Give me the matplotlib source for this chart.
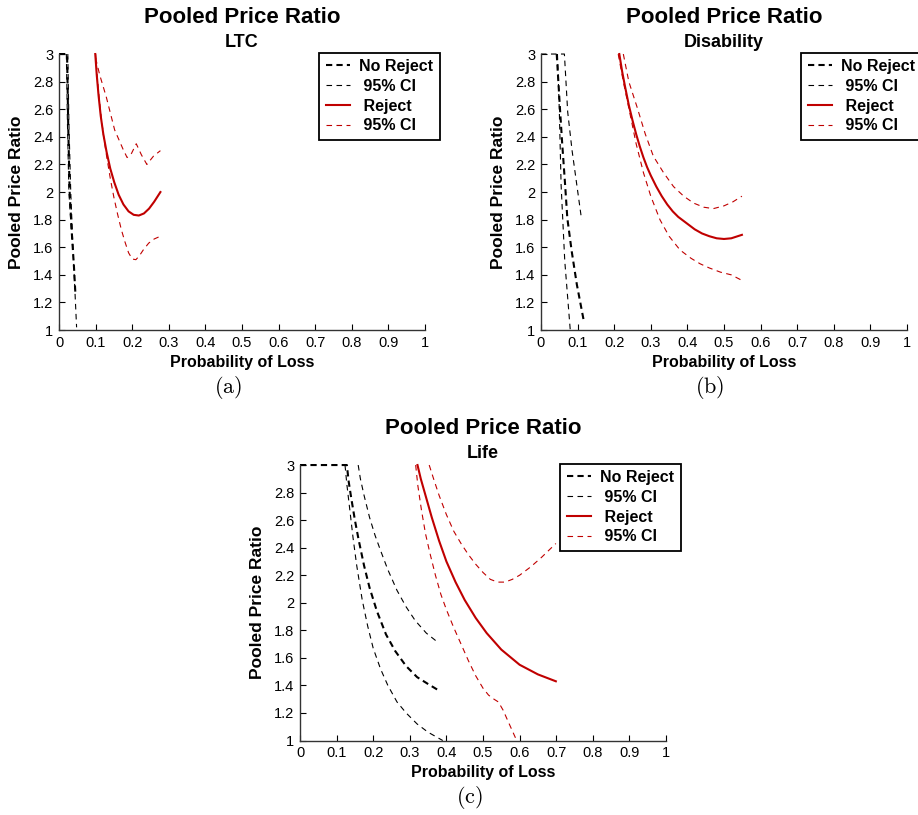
import numpy as np
import matplotlib
matplotlib.use('Agg')
import matplotlib.pyplot as plt

plt.rcParams['font.family'] = ['Liberation Sans', 'DejaVu Sans']
plt.rcParams['mathtext.fontset'] = 'cm'

# LTC panel
ltc_norej_x = [0.0, 0.022, 0.025, 0.029, 0.035, 0.041, 0.045]
ltc_norej_y = [3.0, 3.0, 2.5, 2.0, 1.7, 1.45, 1.25]
ltc_ci1_x = [0.020, 0.023, 0.027, 0.033, 0.038]
ltc_ci1_y = [3.0, 2.5, 2.0, 1.75, 1.57]
ltc_ci2_x = [0.024, 0.027, 0.032, 0.038, 0.044, 0.048]
ltc_ci2_y = [3.0, 2.5, 2.0, 1.6, 1.25, 1.02]
ltc_rej_x = [0.099, 0.103, 0.108, 0.114, 0.121, 0.13, 0.14, 0.151, 0.163, 0.176, 0.19,
             0.204, 0.218, 0.232, 0.246, 0.26, 0.277]
ltc_rej_y = [3.0, 2.85, 2.7, 2.55, 2.42, 2.29, 2.17, 2.07, 1.98, 1.91, 1.86,
             1.835, 1.83, 1.845, 1.88, 1.93, 2.0]
ltc_up_x = [0.1, 0.111, 0.129, 0.152, 0.175, 0.186, 0.198, 0.211, 0.225, 0.24, 0.258, 0.277]
ltc_up_y = [2.97, 2.85, 2.69, 2.45, 2.31, 2.25, 2.28, 2.35, 2.27, 2.2, 2.26, 2.3]
ltc_lo_x = [0.1, 0.104, 0.109, 0.115, 0.122, 0.13, 0.14, 0.15, 0.16, 0.17, 0.18, 0.19,
            0.2, 0.21, 0.22, 0.23, 0.245, 0.26, 0.277]
ltc_lo_y = [3.0, 2.85, 2.7, 2.55, 2.4, 2.26, 2.1, 1.96, 1.84, 1.73, 1.64, 1.56,
            1.515, 1.51, 1.54, 1.58, 1.63, 1.66, 1.68]

# Disability panel
dis_norej_x = [0.043, 0.052, 0.058, 0.066, 0.072, 0.084, 0.098, 0.116]
dis_norej_y = [3.0, 2.6, 2.35, 2.05, 1.81, 1.57, 1.33, 1.08]
dis_ci1_x = [0.045, 0.05, 0.055, 0.065, 0.08]
dis_ci1_y = [3.0, 2.6, 2.05, 1.5, 1.0]
dis_ci2_x = [0.0, 0.064, 0.073, 0.085, 0.098, 0.111]
dis_ci2_y = [3.0, 3.0, 2.58, 2.3, 2.05, 1.8]
dis_rej_x = [0.214, 0.222, 0.23, 0.24, 0.25, 0.26, 0.27, 0.28, 0.29, 0.3, 0.315, 0.33,
             0.345, 0.36, 0.375, 0.39, 0.405, 0.42, 0.44, 0.46, 0.48, 0.5, 0.52, 0.549]
dis_rej_y = [3.0, 2.87, 2.76, 2.63, 2.52, 2.42, 2.33, 2.25, 2.18, 2.12, 2.04, 1.97,
             1.91, 1.86, 1.82, 1.79, 1.76, 1.73, 1.70, 1.68, 1.665, 1.66, 1.665, 1.69]
dis_up_x = [0.225, 0.24, 0.262, 0.285, 0.307, 0.335, 0.362, 0.39, 0.417, 0.445, 0.471, 0.5, 0.525, 0.549]
dis_up_y = [3.0, 2.8, 2.62, 2.42, 2.26, 2.14, 2.04, 1.97, 1.92, 1.89, 1.88, 1.9, 1.93, 1.97]
dis_lo_x = [0.211, 0.225, 0.243, 0.26, 0.28, 0.3, 0.325, 0.35, 0.38, 0.41, 0.435, 0.46, 0.49, 0.52, 0.549]
dis_lo_y = [3.0, 2.8, 2.57, 2.35, 2.14, 1.97, 1.80, 1.68, 1.58, 1.52, 1.48, 1.45, 1.42, 1.4, 1.36]

# Life panel
life_norej_x = [0.0, 0.128, 0.133, 0.14, 0.15, 0.16, 0.175, 0.19, 0.21, 0.235, 0.26,
                0.29, 0.32, 0.35, 0.375]
life_norej_y = [3.0, 3.0, 2.88, 2.76, 2.6, 2.46, 2.27, 2.11, 1.94, 1.77, 1.65,
                1.54, 1.46, 1.41, 1.37]
life_ci1_x = [0.123, 0.128, 0.135, 0.145, 0.155, 0.17, 0.185, 0.2, 0.22, 0.24, 0.265,
              0.29, 0.32, 0.35, 0.39]
life_ci1_y = [3.0, 2.86, 2.7, 2.47, 2.27, 2.02, 1.83, 1.67, 1.52, 1.4, 1.28,
              1.2, 1.12, 1.06, 1.0]
life_ci2_x = [0.159, 0.165, 0.175, 0.19, 0.205, 0.22, 0.24, 0.265, 0.29, 0.315, 0.345, 0.378]
life_ci2_y = [3.0, 2.9, 2.78, 2.62, 2.49, 2.38, 2.24, 2.09, 1.97, 1.87, 1.78, 1.71]
life_rej_x = [0.321, 0.33, 0.345, 0.36, 0.38, 0.4, 0.425, 0.45, 0.48, 0.51, 0.55, 0.6, 0.65, 0.699]
life_rej_y = [3.0, 2.9, 2.76, 2.62, 2.45, 2.3, 2.15, 2.02, 1.89, 1.78, 1.66, 1.55, 1.48, 1.43]
life_up_x = [0.353, 0.365, 0.38, 0.4, 0.42, 0.44, 0.46, 0.48, 0.5, 0.52, 0.54, 0.56,
             0.58, 0.6, 0.63, 0.66, 0.699]
life_up_y = [3.0, 2.9, 2.78, 2.64, 2.52, 2.43, 2.35, 2.28, 2.22, 2.17, 2.15, 2.15,
             2.17, 2.2, 2.26, 2.33, 2.43]
life_lo_x = [0.316, 0.322, 0.332, 0.343, 0.355, 0.37, 0.385, 0.4, 0.42, 0.44, 0.46,
             0.48, 0.5, 0.515, 0.53, 0.542, 0.555, 0.57, 0.592]
life_lo_y = [3.0, 2.85, 2.67, 2.5, 2.36, 2.2, 2.06, 1.95, 1.82, 1.7, 1.58,
             1.47, 1.38, 1.33, 1.30, 1.28, 1.22, 1.13, 1.0]

legend_labels = ['No Reject', ' 95% CI', ' Reject', ' 95% CI']
x_ticks = np.round(np.arange(0, 1.01, 0.1), 1)
y_ticks = np.round(np.arange(1, 3.01, 0.2), 1)
RED = '#c00000'


def tick_fmt(v):
    return '%g' % v


def panel(ax, sub, letter, norej, ci1, ci2, rej, up, lo):
    ax.plot(*norej, color='black', lw=1.5, dashes=(3, 2), clip_on=False)
    ax.plot(*ci1, color='black', lw=0.8, dashes=(5, 4), clip_on=False)
    ax.plot(*rej, color=RED, lw=1.5, clip_on=False)
    ax.plot(*up, color=RED, lw=0.8, dashes=(5, 4), clip_on=False)
    ax.plot(*ci2, color='black', lw=0.8, dashes=(5, 4), clip_on=False)
    ax.plot(*lo, color=RED, lw=0.8, dashes=(5, 4), clip_on=False)

    ax.set_xlim(0, 1)
    ax.set_ylim(1, 3)
    ax.set_xticks(x_ticks)
    ax.set_xticklabels([tick_fmt(v) for v in x_ticks])
    ax.set_yticks(y_ticks)
    ax.set_yticklabels([tick_fmt(v) for v in y_ticks])
    ax.tick_params(direction='in', length=4, width=0.8, labelsize=10.5, pad=4)
    for s in ['top', 'right']:
        ax.spines[s].set_visible(False)
    for s in ['left', 'bottom']:
        ax.spines[s].set_linewidth(1.0)
        ax.spines[s].set_color('#333333')

    ax.text(0.5, 1.134, 'Pooled Price Ratio', transform=ax.transAxes,
            ha='center', va='center', fontsize=16, fontweight='bold')
    ax.text(0.5, 1.043, sub, transform=ax.transAxes,
            ha='center', va='center', fontsize=13, fontweight='bold')
    ax.text(0.5, -0.116, 'Probability of Loss', transform=ax.transAxes,
            ha='center', va='center', fontsize=11.5, fontweight='bold')
    ax.text(-0.115, 0.5, 'Pooled Price Ratio', transform=ax.transAxes, rotation=90,
            ha='center', va='center', fontsize=12.5, fontweight='bold')
    ax.text(0.462, -0.207, r'$\mathrm{(%s)}$' % letter, transform=ax.transAxes,
            ha='center', va='center', fontsize=16)

    h = ax.get_lines()
    leg = ax.legend([h[0], h[1], h[2], h[3]], legend_labels, loc='upper right',
                    bbox_to_anchor=(1.04, 1.005), borderaxespad=0, frameon=True,
                    fancybox=False, framealpha=1, edgecolor='black',
                    prop={'weight': 'bold', 'size': 11.5}, handlelength=1.5,
                    handletextpad=0.6, labelspacing=0.3, borderpad=0.4)
    leg.get_frame().set_linewidth(1.3)
    leg.set_clip_on(False)


fig = plt.figure(figsize=(9.18, 8.15), dpi=100)
ax_a = fig.add_axes([0.0643, 0.595, 0.3987, 0.3387])
ax_b = fig.add_axes([0.5893, 0.595, 0.3987, 0.3387])
ax_c = fig.add_axes([0.3268, 0.0914, 0.3987, 0.338])

panel(ax_a, 'LTC', 'a', (ltc_norej_x, ltc_norej_y), (ltc_ci1_x, ltc_ci1_y),
      (ltc_ci2_x, ltc_ci2_y), (ltc_rej_x, ltc_rej_y), (ltc_up_x, ltc_up_y), (ltc_lo_x, ltc_lo_y))
panel(ax_b, 'Disability', 'b', (dis_norej_x, dis_norej_y), (dis_ci1_x, dis_ci1_y),
      (dis_ci2_x, dis_ci2_y), (dis_rej_x, dis_rej_y), (dis_up_x, dis_up_y), (dis_lo_x, dis_lo_y))
panel(ax_c, 'Life', 'c', (life_norej_x, life_norej_y), (life_ci1_x, life_ci1_y),
      (life_ci2_x, life_ci2_y), (life_rej_x, life_rej_y), (life_up_x, life_up_y), (life_lo_x, life_lo_y))

fig.savefig('out.png', dpi=100)
